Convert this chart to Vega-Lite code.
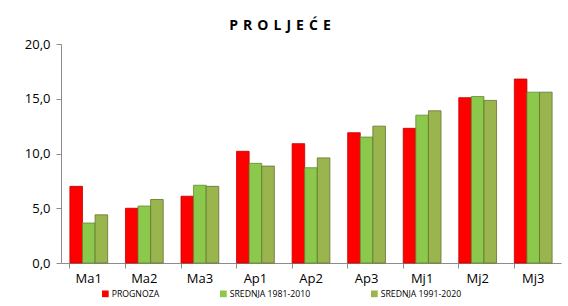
{
  "$schema": "https://vega.github.io/schema/vega-lite/v6.json",
  "width": 500,
  "height": 219,
  "autosize": "none",
  "padding": {"left": 61, "top": 44, "right": 7, "bottom": 43},
  "background": "white",
  "title": {
    "text": "P \u200aR \u200aO \u200aL \u200aJ \u200aE \u200aĆ \u200aE",
    "font": "Open Sans",
    "fontSize": 14,
    "fontWeight": "bold",
    "color": "#000000",
    "anchor": "middle",
    "dx": -31,
    "offset": 5
  },
  "data": {
    "values": [
      {"period": "Ma1", "series": "PROGNOZA", "value": 7.0},
      {"period": "Ma1", "series": "SREDNJA 1981-2010", "value": 3.65},
      {"period": "Ma1", "series": "SREDNJA 1991-2020", "value": 4.4},
      {"period": "Ma2", "series": "PROGNOZA", "value": 5.0},
      {"period": "Ma2", "series": "SREDNJA 1981-2010", "value": 5.2},
      {"period": "Ma2", "series": "SREDNJA 1991-2020", "value": 5.8},
      {"period": "Ma3", "series": "PROGNOZA", "value": 6.1},
      {"period": "Ma3", "series": "SREDNJA 1981-2010", "value": 7.1},
      {"period": "Ma3", "series": "SREDNJA 1991-2020", "value": 7.0},
      {"period": "Ap1", "series": "PROGNOZA", "value": 10.2},
      {"period": "Ap1", "series": "SREDNJA 1981-2010", "value": 9.1},
      {"period": "Ap1", "series": "SREDNJA 1991-2020", "value": 8.85},
      {"period": "Ap2", "series": "PROGNOZA", "value": 10.9},
      {"period": "Ap2", "series": "SREDNJA 1981-2010", "value": 8.7},
      {"period": "Ap2", "series": "SREDNJA 1991-2020", "value": 9.6},
      {"period": "Ap3", "series": "PROGNOZA", "value": 11.9},
      {"period": "Ap3", "series": "SREDNJA 1981-2010", "value": 11.5},
      {"period": "Ap3", "series": "SREDNJA 1991-2020", "value": 12.5},
      {"period": "Mj1", "series": "PROGNOZA", "value": 12.3},
      {"period": "Mj1", "series": "SREDNJA 1981-2010", "value": 13.5},
      {"period": "Mj1", "series": "SREDNJA 1991-2020", "value": 13.9},
      {"period": "Mj2", "series": "PROGNOZA", "value": 15.1},
      {"period": "Mj2", "series": "SREDNJA 1981-2010", "value": 15.2},
      {"period": "Mj2", "series": "SREDNJA 1991-2020", "value": 14.85},
      {"period": "Mj3", "series": "PROGNOZA", "value": 16.8},
      {"period": "Mj3", "series": "SREDNJA 1981-2010", "value": 15.6},
      {"period": "Mj3", "series": "SREDNJA 1991-2020", "value": 15.6}
    ]
  },
  "mark": {"type": "bar", "strokeWidth": 0.8},
  "encoding": {
    "x": {
      "field": "period",
      "type": "nominal",
      "sort": null,
      "title": null,
      "scale": {"paddingInner": 0.32, "paddingOuter": 0.16},
      "axis": {
        "labelAngle": 0,
        "labelFont": "Open Sans",
        "labelFontSize": 13,
        "labelColor": "#000000",
        "labelPadding": 4,
        "domainColor": "#8c8c8c",
        "tickColor": "#8c8c8c",
        "tickSize": 5,
        "bandPosition": 0
      }
    },
    "xOffset": {"field": "series", "type": "nominal", "scale": {"paddingInner": 0}},
    "y": {
      "field": "value",
      "type": "quantitative",
      "title": null,
      "scale": {"domain": [0, 20]},
      "axis": {
        "values": [0, 5, 10, 15, 20],
        "grid": false,
        "labelExpr": "replace(format(datum.value, '.1f'), '.', ',')",
        "labelFont": "Open Sans",
        "labelFontSize": 13,
        "labelColor": "#000000",
        "labelPadding": 6,
        "domainColor": "#8c8c8c",
        "tickColor": "#8c8c8c",
        "tickSize": 5
      }
    },
    "color": {
      "field": "series",
      "type": "nominal",
      "scale": {
        "domain": ["PROGNOZA", "SREDNJA 1981-2010", "SREDNJA 1991-2020"],
        "range": ["#ff0000", "#8cc84b", "#9bb54e"]
      },
      "legend": {
        "title": null,
        "orient": "none",
        "direction": "horizontal",
        "legendX": 40,
        "legendY": 245,
        "symbolType": "square",
        "symbolSize": 45,
        "symbolStrokeWidth": 0,
        "labelFont": "Open Sans",
        "labelFontSize": 8.7,
        "labelColor": "#000000",
        "labelOffset": 2,
        "columnPadding": 59
      }
    },
    "stroke": {
      "field": "series",
      "type": "nominal",
      "scale": {
        "domain": ["PROGNOZA", "SREDNJA 1981-2010", "SREDNJA 1991-2020"],
        "range": ["#c00000", "#5e8a2c", "#5f7330"]
      },
      "legend": null
    }
  },
  "config": {"view": {"stroke": null}}
}
